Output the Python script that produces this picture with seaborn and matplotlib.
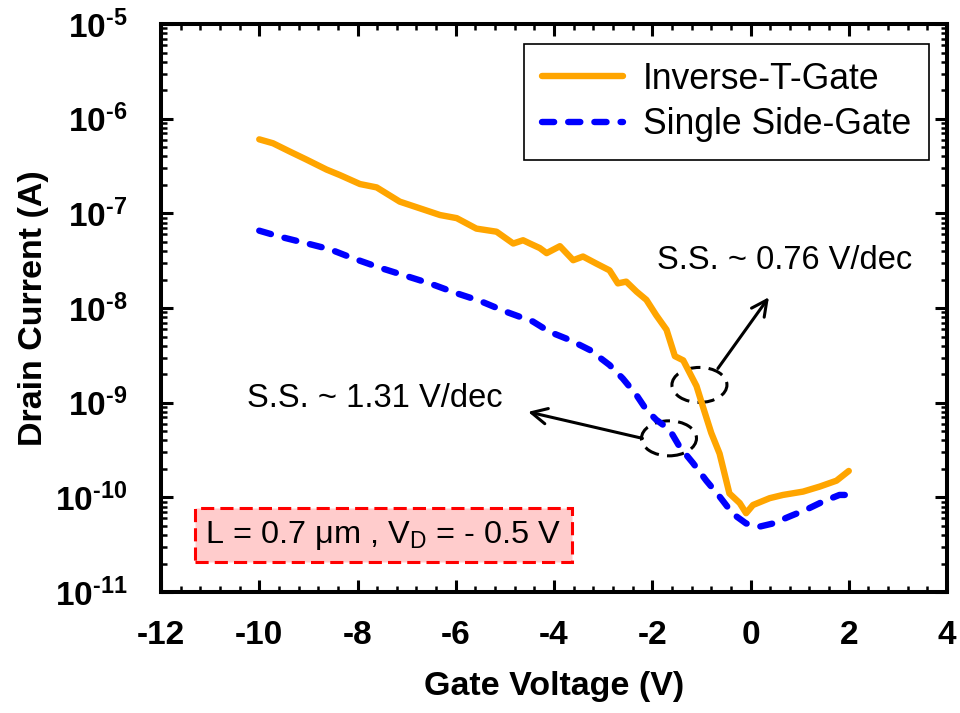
import numpy as np
import pandas as pd
import matplotlib
matplotlib.use("Agg")
import matplotlib.pyplot as plt
import seaborn as sns
from matplotlib.patches import Ellipse
from matplotlib.transforms import ScaledTranslation
from matplotlib.ticker import MultipleLocator, LogLocator, NullFormatter

# Transfer characteristics (Id-Vg), L = 0.7 um, VD = -0.5 V
vg_itg = [-10.0, -9.72, -9.38, -9.04, -8.63, -8.36, -7.95, -7.61, -7.14, -6.73,
          -6.32, -5.98, -5.58, -5.17, -4.83, -4.63, -4.49, -4.29, -4.15, -3.88,
          -3.61, -3.41, -3.14, -2.87, -2.70, -2.53, -2.32, -2.12, -1.92, -1.71,
          -1.54, -1.37, -1.10, -0.97, -0.80, -0.63, -0.43, -0.22, -0.09, 0.05,
          0.39, 0.66, 1.07, 1.41, 1.75, 2.0]
id_itg = [6.05e-7, 5.5e-7, 4.5e-7, 3.7e-7, 2.9e-7, 2.54e-7, 2.04e-7, 1.88e-7, 1.33e-7, 1.13e-7,
          9.6e-8, 8.9e-8, 6.9e-8, 6.4e-8, 4.8e-8, 5.2e-8, 4.8e-8, 4.3e-8, 3.8e-8, 4.5e-8,
          3.2e-8, 3.5e-8, 2.95e-8, 2.5e-8, 1.82e-8, 1.9e-8, 1.49e-8, 1.22e-8, 8.4e-9, 5.9e-9,
          3.1e-9, 2.8e-9, 1.5e-9, 9.1e-10, 4.8e-10, 2.9e-10, 1.1e-10, 8.7e-11, 6.8e-11, 8.3e-11,
          9.8e-11, 1.06e-10, 1.15e-10, 1.3e-10, 1.5e-10, 1.9e-10]

vg_ssg = [-10.0, -9.58, -9.04, -8.56, -8.09, -7.55, -7.07, -6.53, -5.98, -5.51,
          -4.97, -4.43, -4.09, -3.68, -3.27, -2.87, -2.60, -2.32, -2.12, -1.92,
          -1.65, -1.44, -1.17, -0.90, -0.63, -0.36, -0.09, 0.18, 0.46, 0.80,
          1.13, 1.47, 1.81, 2.0]
id_ssg = [6.56e-8, 5.67e-8, 4.83e-8, 4.17e-8, 3.35e-8, 2.67e-8, 2.23e-8, 1.82e-8, 1.43e-8, 1.19e-8,
          9.1e-9, 7.2e-9, 5.6e-9, 4.6e-9, 3.6e-9, 2.5e-9, 1.8e-9, 1.2e-9, 8.4e-10, 6.6e-10,
          5.2e-10, 3.4e-10, 2.3e-10, 1.5e-10, 1.02e-10, 6.7e-11, 5.3e-11, 4.9e-11, 5.3e-11, 6.3e-11,
          7.4e-11, 9e-11, 1.06e-10, 1.06e-10]

series_names = ["Inverse-T-Gate", "Single Side-Gate"]
ytick_exps = [11, 10, 9, 8, 7, 6, 5]
xtick_vals = [-12, -10, -8, -6, -4, -2, 0, 2, 4]

sns.set_theme(style="ticks")
plt.rcParams["font.family"] = ["Liberation Sans", "DejaVu Sans"]
plt.rcParams["mathtext.fontset"] = "custom"
plt.rcParams["mathtext.rm"] = "Liberation Sans"
plt.rcParams["mathtext.it"] = "Liberation Sans:italic"
plt.rcParams["mathtext.bf"] = "Liberation Sans:bold"
for key in ("text.color", "axes.labelcolor", "xtick.color", "ytick.color", "axes.edgecolor"):
    plt.rcParams[key] = "black"

fig = plt.figure(figsize=(9.6, 7.13), dpi=100)
ax = fig.add_axes([0.1677, 0.1697, 0.8188, 0.7966])

df_itg = pd.DataFrame({"Vg": vg_itg, "Id": id_itg})
df_ssg = pd.DataFrame({"Vg": vg_ssg, "Id": id_ssg})

sns.lineplot(data=df_itg, x="Vg", y="Id", ax=ax, color="#FFA500", lw=4.6,
             estimator=None, label=series_names[0], solid_capstyle="round",
             solid_joinstyle="round")
sns.lineplot(data=df_ssg, x="Vg", y="Id", ax=ax, color="#0000FF", lw=4.6,
             estimator=None, label=series_names[1], linestyle=(0, (1.9, 2.2)),
             dash_capstyle="round")

ax.set_yscale("log")
ax.set_xlim(-12, 4)
ax.set_ylim(1e-11, 1e-5)

# hyphen (U+2010) in the exponent keeps the short dash of the original labels
ylabels = ["$\\mathbf{10^{\u2010%d}}$" % e for e in ytick_exps]

ax.xaxis.set_minor_locator(MultipleLocator(0.4))
ax.set_yticks([10.0 ** (-e) for e in ytick_exps])
ax.set_yticklabels(ylabels)
ax.yaxis.set_minor_locator(LogLocator(base=10, subs=np.arange(2, 10), numticks=50))
ax.yaxis.set_minor_formatter(NullFormatter())
ax.set_xticks(xtick_vals)
ax.set_xticklabels([f"{v:d}" for v in xtick_vals], fontweight="bold")

ax.tick_params(which="both", direction="in", top=True, right=True, colors="black")
ax.tick_params(which="major", length=8.6, width=2.2, labelsize=24)
ax.tick_params(which="minor", length=4.3, width=1.8)
ax.tick_params(axis="y", which="major", pad=24)
ax.tick_params(axis="x", which="major", pad=20)
for sp in ax.spines.values():
    sp.set_linewidth(2.9)
    sp.set_color("black")

ax.set_xlabel("Gate Voltage (V)", fontsize=24.5, fontweight="bold")
ax.set_ylabel("Drain Current (A)", fontsize=24.5, fontweight="bold")
ax.xaxis.set_label_coords(0.5, -0.139)
ax.yaxis.set_label_coords(-0.1425, 0.5)

leg = ax.legend(loc="upper right", bbox_to_anchor=(0.977, 0.965), borderaxespad=0,
                fontsize=25.6, frameon=True, fancybox=False, edgecolor="black",
                handlelength=2.3, handletextpad=0.55, borderpad=0.5,
                labelspacing=0.3)
leg.get_frame().set_linewidth(1.2)
leg.get_frame().set_alpha(1)

# Subthreshold-slope callouts: dashed ellipse on each curve plus arrow to the label
def ring(x, y):
    tr = fig.dpi_scale_trans + ScaledTranslation(x, y, ax.transData)
    e = Ellipse((0, 0), 0.55, 0.35, transform=tr, fill=False, edgecolor="black",
                lw=2.2, linestyle=(0, (5, 2.7)))
    ax.add_patch(e)

ring(-1.04, 1.54e-9)
ring(-1.66, 4.2e-10)

arrow = dict(arrowstyle="->", lw=2.2, color="black", mutation_scale=28,
             shrinkA=0, shrinkB=0)
ax.annotate("", xy=(0.374, 1.30e-8), xytext=(-0.664, 2.3e-9), arrowprops=arrow)
ax.annotate("", xy=(-4.528, 8.0e-10), xytext=(-2.2, 4.2e-10), arrowprops=arrow)

ax.text(-1.91, 3.14e-8, "S.S. ~ 0.76 V/dec", fontsize=23.5, ha="left", va="center",
        color="black")
ax.text(-10.24, 1.11e-9, "S.S. ~ 1.31 V/dec", fontsize=23.5, ha="left", va="center",
        color="black")

ax.text(-11.1, 4.0e-11, r"L = 0.7 μm , V$_\mathregular{D}$ = - 0.5 V", fontsize=23.4,
        ha="left", va="center", color="black",
        bbox=dict(boxstyle="square,pad=0.32", facecolor="#FFCCCC", edgecolor="#FF0000",
                  lw=2.2, linestyle=(0, (4.3, 2))))

fig.savefig("out.png", dpi=100)
